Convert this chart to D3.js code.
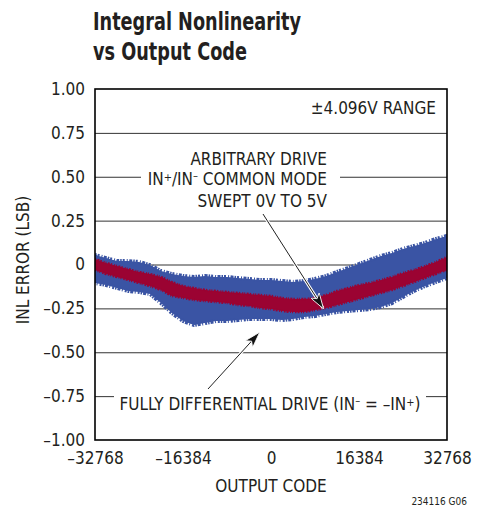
<!DOCTYPE html>
<html><head><meta charset="utf-8">
<script src="https://cdn.jsdelivr.net/npm/d3@7"></script>
<style>
html,body{margin:0;padding:0;background:#fff;}
svg text{font-family:"Liberation Sans Narrow","DejaVu Sans Condensed","Roboto",sans-serif;fill:#231f20;}
</style></head>
<body><svg id="c" width="487" height="508"></svg>
<script>
// ---- data ----
const codes = [-32768,-30720,-28672,-26624,-24576,-22528,-20480,-18432,-16384,-14336,-12288,-10240,-8192,-6144,-4096,-2048,0,2048,4096,6144,8192,10240,12288,14336,16384,18432,20480,22528,24576,26624,28672,30720,32768];
// arbitrary drive (wide blue band) upper / lower envelopes, LSB
const blueTop = [0.048,0.031,0.014,0.014,0.009,-0.009,-0.043,-0.060,-0.071,-0.077,-0.071,-0.077,-0.077,-0.083,-0.088,-0.094,-0.094,-0.100,-0.105,-0.100,-0.088,-0.071,-0.048,-0.026,-0.003,0.020,0.043,0.060,0.083,0.100,0.117,0.140,0.157];
const blueBottom = [-0.100,-0.111,-0.128,-0.145,-0.151,-0.162,-0.214,-0.271,-0.316,-0.339,-0.328,-0.316,-0.316,-0.311,-0.305,-0.305,-0.305,-0.311,-0.305,-0.293,-0.288,-0.276,-0.265,-0.259,-0.254,-0.248,-0.236,-0.214,-0.179,-0.145,-0.117,-0.094,-0.071];
// fully differential drive (narrow red band)
const redTop = [0.031,0.009,-0.009,-0.026,-0.043,-0.054,-0.071,-0.100,-0.123,-0.134,-0.145,-0.151,-0.157,-0.162,-0.168,-0.174,-0.179,-0.191,-0.197,-0.197,-0.191,-0.174,-0.151,-0.134,-0.117,-0.105,-0.088,-0.071,-0.048,-0.031,-0.009,0.014,0.043];
const redBottom = [-0.031,-0.054,-0.071,-0.088,-0.105,-0.123,-0.145,-0.179,-0.191,-0.202,-0.208,-0.214,-0.219,-0.231,-0.236,-0.248,-0.254,-0.265,-0.271,-0.271,-0.259,-0.248,-0.231,-0.214,-0.197,-0.179,-0.162,-0.145,-0.123,-0.100,-0.077,-0.054,-0.031];
const xTicks = [-32768,-16384,0,16384,32768];
const xTickLabels = ["\u201332768","\u201316384","0","16384","32768"];
const yTicks = [1,0.75,0.5,0.25,0,-0.25,-0.5,-0.75,-1];
const yTickLabels = ["1.00","0.75","0.50","0.25","0","\u20130.25","\u20130.50","\u20130.75","\u20131.00"];

// ---- layout ----
const L=95, T=89, W=352, H=351;
const svg = d3.select("#c");
const x = d3.scaleLinear().domain([-32768,32768]).range([L,L+W]);
const y = d3.scaleLinear().domain([-1,1]).range([T+H,T]);

// title
const title = svg.append("g").style("font-weight","bold");
title.append("text").attr("x",93).attr("y",30).attr("font-size",25).attr("textLength",208).attr("lengthAdjust","spacingAndGlyphs").text("Integral Nonlinearity");
title.append("text").attr("x",93).attr("y",60).attr("font-size",25).attr("textLength",154).attr("lengthAdjust","spacingAndGlyphs").text("vs Output Code");

// gridlines
svg.append("g").attr("transform",`translate(${L},0)`)
  .call(d3.axisLeft(y).tickValues(yTicks.slice(1,-1)).tickSize(-W).tickFormat(""))
  .call(g=>g.select(".domain").remove())
  .call(g=>g.selectAll("line").attr("stroke","#333").attr("stroke-width",1));

// bands (ragged edge stroke gives the noisy look of the measured data)
const blueArea = d3.area().x((d,i)=>x(codes[i])).y0((d,i)=>y(blueBottom[i])+1).y1((d,i)=>y(blueTop[i])-1);
const redArea = d3.area().x((d,i)=>x(codes[i])).y0((d,i)=>y(redBottom[i])).y1((d,i)=>y(redTop[i]));
const clip = svg.append("clipPath").attr("id","pc").append("rect").attr("x",L).attr("y",T).attr("width",W).attr("height",H);
const bands = svg.append("g").attr("clip-path","url(#pc)");
bands.append("path").datum(codes).attr("d",blueArea).attr("fill","#3a54a4")
  .attr("stroke","#3a54a4").attr("stroke-width",4).attr("stroke-dasharray","1.5,1,2,2,1,1.5,3,1");
bands.append("path").datum(codes).attr("d",redArea).attr("fill","#9b0332")
  .attr("stroke","#9b0332").attr("stroke-width",2.5).attr("stroke-dasharray","1,1.5,2,1,1.5,2,1,1");

// frame
svg.append("rect").attr("x",L).attr("y",T).attr("width",W).attr("height",H).attr("fill","none").attr("stroke","#000").attr("stroke-width",1.6);

// y axis labels
svg.append("g").attr("transform",`translate(${L},0)`)
  .call(d3.axisLeft(y).tickValues(yTicks).tickSize(0).tickPadding(10).tickFormat((d,i)=>yTickLabels[i]))
  .call(g=>g.select(".domain").remove())
  .call(g=>g.selectAll("text").attr("font-size",17).attr("fill","#231f20").style("font-family",null));

// x axis labels
svg.append("g").attr("transform",`translate(0,${T+H})`)
  .call(d3.axisBottom(x).tickValues(xTicks).tickSize(0).tickPadding(12).tickFormat((d,i)=>xTickLabels[i]))
  .call(g=>g.select(".domain").remove())
  .call(g=>g.selectAll("text").attr("font-size",17).attr("fill","#231f20").style("font-family",null));

// axis titles
svg.append("text").attr("x",L+W/2).attr("y",492).attr("text-anchor","middle").attr("font-size",17).text("OUTPUT CODE");
svg.append("text").attr("transform","translate(29,260) rotate(-90)").attr("text-anchor","middle").attr("font-size",17).text("INL ERROR (LSB)");
svg.append("text").attr("x",467).attr("y",505).attr("text-anchor","end").attr("font-size",10).text("234116 G06");

// range label
svg.append("text").attr("x",436).attr("y",114).attr("text-anchor","end").attr("font-size",17).text("\u00b14.096V RANGE");

// annotation: arbitrary drive
svg.append("rect").attr("x",141).attr("y",168).attr("width",199).attr("height",20).attr("fill","#fff");
const a1 = svg.append("g").attr("text-anchor","end").attr("font-size",17);
a1.append("text").attr("x",327).attr("y",165).text("ARBITRARY DRIVE");
const l2 = a1.append("text").attr("x",327).attr("y",185);
l2.append("tspan").text("IN");
l2.append("tspan").attr("baseline-shift","35%").attr("font-size",11).text("+");
l2.append("tspan").text("/IN");
l2.append("tspan").attr("baseline-shift","55%").attr("font-size",11).text("\u2013");
l2.append("tspan").text(" COMMON MODE");
a1.append("text").attr("x",327).attr("y",207).text("SWEPT 0V TO 5V");

// annotation: fully differential
svg.append("rect").attr("x",114).attr("y",388).attr("width",312).attr("height",26).attr("fill","#fff");
const f = svg.append("text").attr("x",270).attr("y",410).attr("text-anchor","middle").attr("font-size",17);
f.append("tspan").text("FULLY DIFFERENTIAL DRIVE (IN");
f.append("tspan").attr("baseline-shift","55%").attr("font-size",11).text("\u2013");
f.append("tspan").text(" = \u2013IN");
f.append("tspan").attr("baseline-shift","35%").attr("font-size",11).text("+");
f.append("tspan").text(")");

// arrows
const defs = svg.append("defs");
defs.append("marker").attr("id","ah").attr("viewBox","0 0 16 10").attr("refX",15).attr("refY",5)
  .attr("markerWidth",16).attr("markerHeight",10).attr("markerUnits","userSpaceOnUse").attr("orient","auto")
  .append("path").attr("d","M0,0 L16,5 L0,10 L4,5 Z").attr("fill","#111").attr("stroke","#fff").attr("stroke-width",0.8);
function arrow(x1,y1,x2,y2){
  svg.append("line").attr("x1",x1).attr("y1",y1).attr("x2",x2).attr("y2",y2).attr("stroke","#fff").attr("stroke-width",3);
  svg.append("line").attr("x1",x1).attr("y1",y1).attr("x2",x2).attr("y2",y2).attr("stroke","#222").attr("stroke-width",1).attr("marker-end","url(#ah)");
}
arrow(263,214,323,308);
arrow(208,389,259,333);
</script></body></html>
